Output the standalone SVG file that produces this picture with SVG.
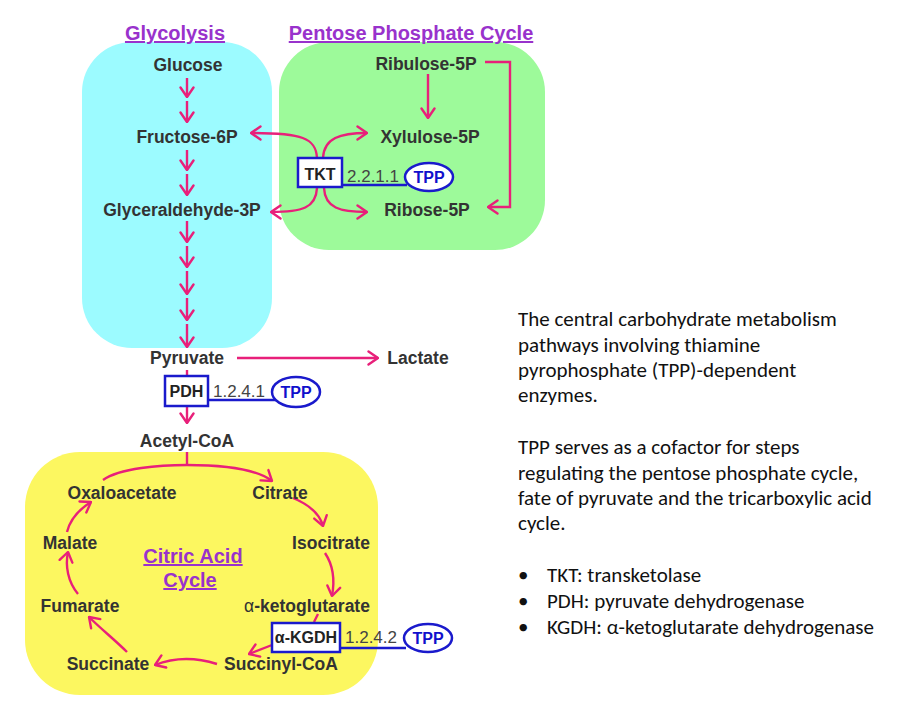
<svg xmlns="http://www.w3.org/2000/svg" width="924" height="720" viewBox="0 0 924 720">
<defs>
<marker id="ah" viewBox="0 0 12 16" refX="11" refY="8" markerWidth="12" markerHeight="16" markerUnits="userSpaceOnUse" orient="auto">
<path d="M1.5,1.5 L11,8 L1.5,14.5" fill="none" stroke="#e8207a" stroke-width="2.4" stroke-linecap="round" stroke-linejoin="round"/>
</marker>
<style>
.lbl{font-family:"Liberation Sans",Arial,sans-serif;font-weight:bold;font-size:17.5px;fill:#333;text-anchor:middle}
.ttl{font-family:"Liberation Sans",Arial,sans-serif;font-weight:bold;font-size:20px;fill:#9932cc;text-anchor:middle;text-decoration:underline}
.ec{font-family:"Liberation Sans",Arial,sans-serif;font-size:17px;fill:#444}
.enz{fill:#fff;stroke:#1a1acc;stroke-width:2.5}
.enzt{font-family:"Liberation Sans",Arial,sans-serif;font-weight:bold;font-size:16px;fill:#222;text-anchor:middle}
.tpp{fill:#fff;stroke:#1a1acc;stroke-width:2.5}
.tppt{font-family:"Liberation Sans",Arial,sans-serif;font-weight:bold;font-size:16px;fill:#1010cc;text-anchor:middle}
.bl{stroke:#1a1acc;stroke-width:2.5;fill:none}
.ar{fill:none;stroke:#e8207a;stroke-width:2.4}
.arm{fill:none;stroke:#e8207a;stroke-width:2.4;marker-end:url(#ah)}
.body{font-family:Carlito,Lato,"Open Sans",sans-serif;font-size:21px;fill:#111}
</style>
</defs>
<rect width="924" height="720" fill="#fff"/>
<g id="regions">
<rect id="glycolysis-bg" x="82" y="42" width="190" height="306" rx="50" fill="#9cfbff"/>
<rect id="ppp-bg" x="279" y="42" width="266" height="208" rx="50" fill="#9dfa9a"/>
<rect id="tca-bg" x="25" y="452" width="353" height="243" rx="55" fill="#fcf760"/>
</g>
<g id="titles">
<text class="ttl" x="175" y="40">Glycolysis</text>
<text class="ttl" x="411" y="40">Pentose Phosphate Cycle</text>
<text class="ttl" x="193" y="563">Citric Acid </text>
<text class="ttl" x="190" y="587">Cycle</text>
</g>
<g id="connectors">
<path class="arm" d="M187,78 L187,97"/>
<path class="arm" d="M187,101 L187,122"/>
<path class="arm" d="M187,150 L187,170"/>
<path class="arm" d="M187,174 L187,195"/>
<path class="arm" d="M187,221 L187,242"/>
<path class="arm" d="M187,246 L187,267"/>
<path class="arm" d="M187,271 L187,294"/>
<path class="arm" d="M187,298 L187,320"/>
<path class="arm" d="M187,324 L187,347"/>
<path class="arm" d="M428,74 L428,118"/>
<path class="arm" d="M485,62 L510,62 L510,207 L488,207"/>
<path class="arm" d="M317,158 C316,138 302,133 251,133"/>
<path class="arm" d="M323,158 C324,138 340,133 367,133"/>
<path class="arm" d="M317,188 C316,208 302,212 271,212"/>
<path class="arm" d="M324,188 C325,208 340,212 367,212"/>
<path class="arm" d="M237,358 L378,358"/>
<path class="ar" d="M187,370 L187,376"/>
<path class="arm" d="M187,406 L187,423"/>
<path class="ar" d="M187,452 L187,465"/>
<path class="arm" d="M103,480 C120,468 160,465 187,465 C220,465 255,468 272,481"/>
<path class="arm" d="M293,498 C310,505 320,515 323,526"/>
<path class="arm" d="M325,553 C333,565 335,580 332,596"/>
<path class="ar" d="M318,614 L314,622"/>
<path class="arm" d="M272,645 L249,654"/>
<path class="arm" d="M217,664 C195,657 175,657 155,665"/>
<path class="arm" d="M127,652 C115,640 100,628 89,617"/>
<path class="arm" d="M78,594 C68,582 65,566 68,552"/>
<path class="arm" d="M67,532 C70,520 78,510 91,502"/>
<path class="bl" d="M342,185 L407,185"/>
<path class="bl" d="M208,400 L276,400"/>
<path class="bl" d="M340,648 L406,648"/>
</g>
<g id="glucose"><text class="lbl" x="188" y="71">Glucose</text></g>
<g id="fructose-6p"><text class="lbl" x="187" y="143">Fructose-6P</text></g>
<g id="glyceraldehyde-3p"><text class="lbl" x="182" y="216">Glyceraldehyde-3P</text></g>
<g id="ribulose-5p"><text class="lbl" x="426" y="70">Ribulose-5P</text></g>
<g id="xylulose-5p"><text class="lbl" x="430" y="143">Xylulose-5P</text></g>
<g id="ribose-5p"><text class="lbl" x="427" y="216">Ribose-5P</text></g>
<g id="tkt">
<rect class="enz" x="298" y="158" width="44" height="29"/>
<text class="enzt" x="320" y="180">TKT</text>
<text class="ec" x="347" y="182">2.2.1.1</text>
</g>
<g id="tpp-tkt">
<ellipse class="tpp" cx="429" cy="177" rx="24" ry="14"/>
<text class="tppt" x="429" y="183">TPP</text>
</g>
<g id="pyruvate"><text class="lbl" x="187" y="364">Pyruvate</text></g>
<g id="lactate"><text class="lbl" x="418" y="364">Lactate</text></g>
<g id="pdh">
<rect class="enz" x="165" y="376" width="43" height="30"/>
<text class="enzt" x="186.5" y="397">PDH</text>
<text class="ec" x="213" y="397">1.2.4.1</text>
</g>
<g id="tpp-pdh">
<ellipse class="tpp" cx="296" cy="392" rx="24" ry="15"/>
<text class="tppt" x="296" y="398">TPP</text>
</g>
<g id="acetyl-coa"><text class="lbl" x="187" y="447">Acetyl-CoA</text></g>
<g id="oxaloacetate"><text class="lbl" x="122" y="499">Oxaloacetate</text></g>
<g id="citrate"><text class="lbl" x="280" y="499">Citrate</text></g>
<g id="malate"><text class="lbl" x="70" y="549">Malate</text></g>
<g id="isocitrate"><text class="lbl" x="331" y="549">Isocitrate</text></g>
<g id="fumarate"><text class="lbl" x="80" y="612">Fumarate</text></g>
<g id="a-ketoglutarate"><text class="lbl" x="307" y="612"><tspan font-weight="normal">α</tspan>-ketoglutarate</text></g>
<g id="a-kgdh">
<rect class="enz" x="272" y="623" width="68" height="29"/>
<text class="enzt" x="306" y="643">α-KGDH</text>
<text class="ec" x="345" y="643">1.2.4.2</text>
</g>
<g id="tpp-kgdh">
<ellipse class="tpp" cx="428" cy="638" rx="24" ry="14"/>
<text class="tppt" x="428" y="644">TPP</text>
</g>
<g id="succinate"><text class="lbl" x="108" y="670">Succinate</text></g>
<g id="succinyl-coa"><text class="lbl" x="281" y="670">Succinyl-CoA</text></g>
<g id="description">
<text class="body" x="518" y="326">The central carbohydrate metabolism</text>
<text class="body" x="518" y="352">pathways involving thiamine</text>
<text class="body" x="518" y="377">pyrophosphate (TPP)-dependent</text>
<text class="body" x="518" y="402">enzymes.</text>
<text class="body" x="518" y="454">TPP serves as a cofactor for steps</text>
<text class="body" x="518" y="480">regulating the pentose phosphate cycle,</text>
<text class="body" x="518" y="505">fate of pyruvate and the tricarboxylic acid</text>
<text class="body" x="518" y="530">cycle.</text>
<text class="body" x="518" y="582">•</text>
<text class="body" x="547" y="582">TKT: transketolase</text>
<text class="body" x="518" y="608">•</text>
<text class="body" x="547" y="608">PDH: pyruvate dehydrogenase</text>
<text class="body" x="518" y="634">•</text>
<text class="body" x="547" y="634">KGDH: α-ketoglutarate dehydrogenase</text>
</g>
</svg>
